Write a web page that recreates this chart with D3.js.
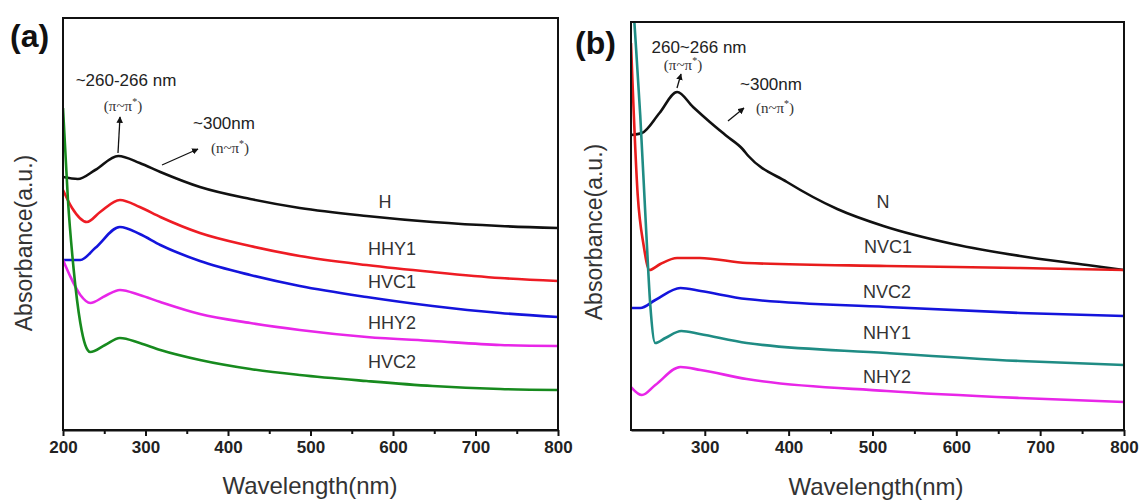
<!DOCTYPE html>
<html>
<head>
<meta charset="utf-8">
<script src="https://cdn.jsdelivr.net/npm/d3@7"></script>
<style>
  body { margin: 0; background: #fff; }
  svg { display: block; }
  text { font-family: Arial, "Liberation Sans", sans-serif; }
</style>
</head>
<body>
<svg id="chart" width="1139" height="500"></svg>
<script>
// ---------------- DATA (wavelength nm, absorbance a.u.) ----------------
// Panel (a)
const seriesA_H    = [[200,2.53],[218,2.51],[239,2.60],[267,2.74],[293,2.67],[318,2.58],[366,2.43],[427,2.31],[487,2.22],[568,2.14],[648,2.08],[730,2.04],[800,2.02]];
const seriesA_HHY1 = [[200,2.40],[211,2.22],[229,2.08],[245,2.18],[269,2.30],[293,2.23],[318,2.13],[366,1.97],[427,1.84],[487,1.74],[568,1.65],[648,1.58],[730,1.52],[800,1.49]];
const seriesA_HVC1 = [[200,1.70],[221,1.70],[239,1.82],[269,2.03],[293,1.96],[318,1.85],[366,1.69],[427,1.55],[487,1.44],[568,1.33],[648,1.24],[730,1.17],[800,1.13]];
const seriesA_HHY2 = [[200,1.70],[208,1.55],[221,1.35],[233,1.27],[251,1.34],[269,1.40],[293,1.35],[318,1.28],[366,1.16],[427,1.07],[487,1.00],[568,0.93],[648,0.89],[730,0.85],[800,0.84]];
const seriesA_HVC2 = [[200,3.22],[206,2.30],[213,1.60],[221,1.07],[227,0.85],[233,0.78],[251,0.85],[269,0.92],[293,0.87],[318,0.80],[366,0.70],[427,0.61],[487,0.55],[568,0.49],[648,0.44],[730,0.41],[800,0.40]];
// Panel (b)
const seriesB_N    = [[212,2.95],[225,2.97],[246,3.17],[267,3.38],[286,3.23],[306,3.08],[326,2.94],[345,2.81],[352,2.74],[398,2.48],[458,2.21],[513,2.04],[596,1.86],[676,1.74],[756,1.65],[800,1.60]];
const seriesB_NVC1 = [[212,3.87],[220,2.35],[227,1.85],[234,1.60],[247,1.66],[267,1.72],[294,1.72],[350,1.67],[517,1.64],[676,1.62],[800,1.60]];
const seriesB_NVC2 = [[212,1.22],[223,1.22],[241,1.30],[271,1.42],[295,1.39],[350,1.31],[517,1.23],[676,1.17],[800,1.14]];
const seriesB_NHY1 = [[212,4.60],[216,4.08],[223,3.15],[230,2.01],[235,1.25],[241,0.87],[253,0.92],[272,0.99],[294,0.96],[350,0.87],[517,0.77],[676,0.69],[800,0.65]];
const seriesB_NHY2 = [[212,0.43],[225,0.35],[241,0.45],[271,0.63],[295,0.60],[350,0.51],[517,0.39],[676,0.32],[800,0.28]];

const namesA = ["H","HHY1","HVC1","HHY2","HVC2"];
const namesB = ["N","NVC1","NVC2","NHY1","NHY2"];
const ticksA = [200,300,400,500,600,700,800];
const ticksB = [300,400,500,600,700,800];
const minorTicks = [250,350,450,550,650,750];
// -----------------------------------------------------------------------

const svg = d3.select("#chart");
const FONT = 'Arial, "Liberation Sans", sans-serif';

function panel(cfg) {
  const x = d3.scaleLinear().domain(cfg.xDomain).range([cfg.left, cfg.right]);
  const y = d3.scaleLinear().domain(cfg.yDomain).range([cfg.bottom, cfg.top]);
  const g = svg.append("g");
  const clipId = "clip" + cfg.id;
  svg.append("clipPath").attr("id", clipId).append("rect")
    .attr("x", cfg.left).attr("y", cfg.top)
    .attr("width", cfg.right - cfg.left).attr("height", cfg.bottom - cfg.top);

  const line = d3.line().x(d => x(d[0])).y(d => y(d[1])).curve(d3.curveMonotoneX);
  const lines = g.append("g").attr("clip-path", `url(#${clipId})`);
  cfg.series.forEach((s, i) => {
    lines.append("path").datum(s.data)
      .attr("fill", "none").attr("stroke", s.color)
      .attr("stroke-width", 2.6).attr("stroke-linejoin", "round")
      .attr("d", line);
  });

  // frame
  g.append("rect").attr("x", cfg.left).attr("y", cfg.top)
    .attr("width", cfg.right - cfg.left).attr("height", cfg.bottom - cfg.top)
    .attr("fill", "none").attr("stroke", "#111").attr("stroke-width", 2);

  // minor ticks
  g.append("g").attr("transform", `translate(0,${cfg.bottom})`)
    .call(d3.axisBottom(x).tickValues(minorTicks.filter(t => t > cfg.xDomain[0])).tickSize(4).tickSizeOuter(0).tickFormat(""))
    .call(a => a.select(".domain").remove())
    .call(a => a.selectAll("line").attr("stroke", "#111").attr("stroke-width", 2));
  // major ticks
  g.append("g").attr("transform", `translate(0,${cfg.bottom})`)
    .call(d3.axisBottom(x).tickValues(cfg.ticks).tickSize(6).tickSizeOuter(0).tickPadding(5))
    .call(a => a.select(".domain").attr("stroke", "#111").attr("stroke-width", 2))
    .call(a => a.selectAll("line").attr("stroke", "#111").attr("stroke-width", 2))
    .call(a => a.selectAll("text").attr("font-family", FONT).attr("font-size", 17)
      .attr("font-weight", "bold").attr("fill", "#222"));

  // series labels
  cfg.series.forEach(s => {
    g.append("text").attr("x", s.lx).attr("y", s.ly)
      .attr("text-anchor", "middle").attr("dominant-baseline", "central")
      .attr("font-size", 18).attr("fill", "#333").text(s.name);
  });

  // axis titles
  g.append("text").attr("x", cfg.xtX).attr("y", cfg.xtY)
    .attr("text-anchor", "middle").attr("dominant-baseline", "central")
    .attr("font-size", 24).attr("fill", "#333").text("Wavelength(nm)");
  g.append("text").attr("transform", `translate(${cfg.ytX},${cfg.ytY}) rotate(-90)`)
    .attr("text-anchor", "middle").attr("dominant-baseline", "central")
    .attr("font-size", 23).attr("fill", "#333").text("Absorbance(a.u.)");

  // panel letter
  g.append("text").attr("x", cfg.letterX).attr("y", cfg.letterY)
    .attr("dominant-baseline", "central")
    .attr("font-size", 32).attr("font-weight", "bold").attr("fill", "#111").text(cfg.letter);
  return {x, y, g};
}

// arrow marker
svg.append("defs").append("marker").attr("id", "arr")
  .attr("viewBox", "0 0 10 10").attr("refX", 9).attr("refY", 5)
  .attr("markerWidth", 5).attr("markerHeight", 5).attr("orient", "auto")
  .append("path").attr("d", "M0,0 L10,5 L0,10 z").attr("fill", "#111");

function annot(g, a) {
  g.append("text").attr("x", a.t1x).attr("y", a.t1y).attr("text-anchor", "middle")
    .attr("dominant-baseline", "central").attr("font-size", a.fs).attr("fill", "#222").text(a.t1);
  const p = g.append("text").attr("x", a.p1x).attr("y", a.p1y).attr("text-anchor", "middle")
    .attr("dominant-baseline", "central").attr("font-size", 15).attr("fill", "#333")
    .style("font-family", '"Liberation Serif", "Times New Roman", serif');
  p.append("tspan").text("(π~π");
  p.append("tspan").attr("dy", -5).attr("font-size", 10).text("*");
  p.append("tspan").attr("dy", 5).text(")");
  g.append("line").attr("x1", a.a1[0]).attr("y1", a.a1[1]).attr("x2", a.a1[2]).attr("y2", a.a1[3])
    .attr("stroke", "#111").attr("stroke-width", 1.3).attr("marker-end", "url(#arr)");

  g.append("text").attr("x", a.t2x).attr("y", a.t2y).attr("text-anchor", "middle")
    .attr("dominant-baseline", "central").attr("font-size", a.fs).attr("fill", "#222").text("~300nm");
  const q = g.append("text").attr("x", a.p2x).attr("y", a.p2y).attr("text-anchor", "middle")
    .attr("dominant-baseline", "central").attr("font-size", 15).attr("fill", "#333")
    .style("font-family", '"Liberation Serif", "Times New Roman", serif');
  q.append("tspan").text("(n~π");
  q.append("tspan").attr("dy", -5).attr("font-size", 10).text("*");
  q.append("tspan").attr("dy", 5).text(")");
  g.append("line").attr("x1", a.a2[0]).attr("y1", a.a2[1]).attr("x2", a.a2[2]).attr("y2", a.a2[3])
    .attr("stroke", "#111").attr("stroke-width", 1.3).attr("marker-end", "url(#arr)");
}

const colorsA = ["#111111", "#ee1c24", "#1414dc", "#e826e8", "#178a1e"];
const colorsB = ["#111111", "#e81c1c", "#1414dc", "#1f8c84", "#e826e8"];
const dataA = [seriesA_H, seriesA_HHY1, seriesA_HVC1, seriesA_HHY2, seriesA_HVC2];
const dataB = [seriesB_N, seriesB_NVC1, seriesB_NVC2, seriesB_NHY1, seriesB_NHY2];
const labelPosA = [[385,202],[392,249],[392,282],[392,323],[392,362]];
const labelPosB = [[883,202],[888,247],[887,292],[887,333],[887,377]];

const pa = panel({
  id: "a", xDomain: [200, 800], yDomain: [0, 4.12],
  left: 63, right: 558, top: 18, bottom: 430, ticks: ticksA,
  series: namesA.map((n, i) => ({name: n, data: dataA[i], color: colorsA[i], lx: labelPosA[i][0], ly: labelPosA[i][1]})),
  xtX: 310, xtY: 485, ytX: 24, ytY: 243, letter: "(a)", letterX: 10, letterY: 36
});
annot(pa.g, {fs: 17, t1: "~260-266 nm", t1x: 126, t1y: 80, p1x: 123, p1y: 106,
  a1: [118, 153, 120, 117], t2x: 224, t2y: 123, p2x: 230, p2y: 148, a2: [162, 165, 198, 149]});

const pb = panel({
  id: "b", xDomain: [212, 800], yDomain: [0, 4.08],
  left: 631, right: 1124, top: 22, bottom: 430, ticks: ticksB,
  series: namesB.map((n, i) => ({name: n, data: dataB[i], color: colorsB[i], lx: labelPosB[i][0], ly: labelPosB[i][1]})),
  xtX: 876, xtY: 486, ytX: 594, ytY: 232, letter: "(b)", letterX: 575, letterY: 43
});
annot(pb.g, {fs: 17, t1: "260~266 nm", t1x: 699, t1y: 47, p1x: 683, p1y: 65,
  a1: [677, 88, 681, 74], t2x: 771, t2y: 84, p2x: 775, p2y: 108, a2: [728, 121, 744, 108]});
</script>
</body>
</html>
